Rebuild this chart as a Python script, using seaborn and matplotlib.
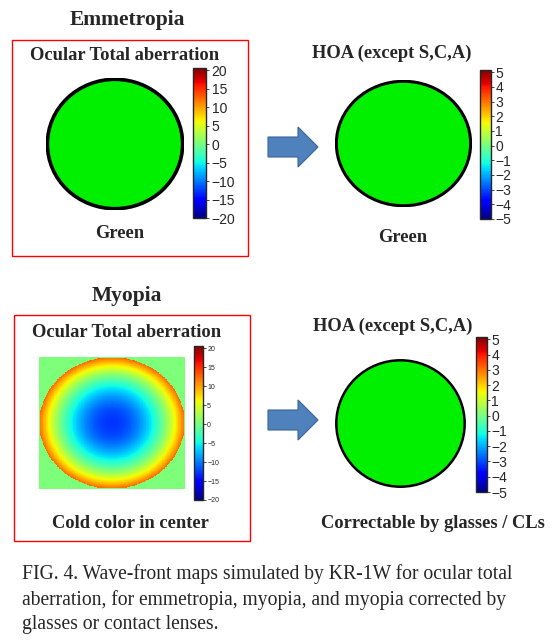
import numpy as np
import matplotlib
matplotlib.use("Agg")
import matplotlib.pyplot as plt
import seaborn as sns
from matplotlib import patches
from matplotlib.cm import ScalarMappable
from matplotlib.colors import Normalize

sns.set_style("white")
plt.rcParams['font.family'] = ['DejaVu Sans']

# ---- data ----
row_titles = ["Emmetropia", "Myopia"]
panel_titles = ["Ocular Total aberration", "HOA (except S,C,A)"]
panel_notes = [["Green", "Green"], ["Cold color in center", "Correctable by glasses / CLs"]]
total_ticks = [-20, -15, -10, -5, 0, 5, 10, 15, 20]
hoa_ticks = [-5, -4, -3, -2, -1, 0, 1, 2, 3, 4, 5]
total_range = [-20, 20]
hoa_range = [-5, 5]
myopia_center_value = -13.0   # wavefront at pupil centre (myopic defocus)
myopia_edge_value = 12.0      # wavefront at pupil edge
outside_value = 0.0
grid_n = 200
caption = ("FIG. 4. Wave-front maps simulated by KR-1W for ocular total\n"
           "aberration, for emmetropia, myopia, and myopia corrected by\n"
           "glasses or contact lenses.")

W, H = 559, 641
fig = plt.figure(figsize=(W / 100, H / 100), dpi=100)
fig.patch.set_facecolor("white")
serif = ["Liberation Serif", "DejaVu Serif"]


def ax_px(x0, y0, x1, y1):
    return fig.add_axes([x0 / W, 1 - y1 / H, (x1 - x0) / W, (y1 - y0) / H])


def txt(x, y, s, **kw):
    fig.text(x / W, 1 - y / H, s, ha="center", va="center", **kw)


def rect_px(x0, y0, x1, y1, **kw):
    fig.patches.append(patches.Rectangle((x0 / W, 1 - y1 / H), (x1 - x0) / W, (y1 - y0) / H,
                                         transform=fig.transFigure, fill=False, **kw))


def arrow_px(x0, yc):
    pts = [(x0, yc - 10), (x0 + 30, yc - 10), (x0 + 30, yc - 20), (x0 + 50, yc),
           (x0 + 30, yc + 20), (x0 + 30, yc + 10), (x0, yc + 10)]
    pts = [(x / W, 1 - y / H) for x, y in pts]
    fig.patches.append(patches.Polygon(pts, closed=True, transform=fig.transFigure,
                                       facecolor="#4F81BD", edgecolor="#3A6393", lw=0.8))


def green_circle(x0, y0, x1, y1, lw=2.2):
    ax = ax_px(x0, y0, x1, y1)
    ax.set_xlim(0, 1)
    ax.set_ylim(0, 1)
    ax.axis("off")
    ax.add_patch(patches.Ellipse((0.5, 0.5), 0.98, 0.98, facecolor="#00F000",
                                 edgecolor="black", lw=lw))


def cbar(x0, y0, x1, y1, rng, ticks, fs, pad=2):
    cax = ax_px(x0, y0, x1, y1)
    sm = ScalarMappable(norm=Normalize(rng[0], rng[1] * 1.03), cmap="jet")
    cb = fig.colorbar(sm, cax=cax, ticks=ticks)
    cb.outline.set_linewidth(1.0)
    cb.ax.tick_params(labelsize=fs, length=2, width=0.6, pad=pad)
    for t in cb.ax.get_yticklabels():
        t.set_fontfamily(["Liberation Sans", "DejaVu Sans"])
    return cb


TF = 13.3
# row titles and boxes
txt(127, 20, row_titles[0], fontsize=15.5, fontweight="bold", family=serif)
txt(127, 296, row_titles[1], fontsize=15.5, fontweight="bold", family=serif)
rect_px(12, 40, 248, 256, edgecolor="red", lw=1.0)
rect_px(14, 315, 250, 541, edgecolor="red", lw=1.0)

# panel titles
txt(125, 55, panel_titles[0], fontsize=TF, fontweight="bold", family=serif)
txt(392, 53, panel_titles[1], fontsize=TF, fontweight="bold", family=serif)
txt(127, 332, panel_titles[0], fontsize=TF, fontweight="bold", family=serif)
txt(393, 326, panel_titles[1], fontsize=TF, fontweight="bold", family=serif)

# notes
txt(120, 234, panel_notes[0][0], fontsize=TF, fontweight="bold", family=serif)
txt(403, 237, panel_notes[0][1], fontsize=TF, fontweight="bold", family=serif)
txt(130, 523, panel_notes[1][0], fontsize=TF, fontweight="bold", family=serif)
txt(433, 523, panel_notes[1][1], fontsize=TF, fontweight="bold", family=serif)

# emmetropia maps
green_circle(46, 78, 184, 210, lw=2.6)
cbar(193, 68, 206, 218, total_range, total_ticks, 10)
green_circle(335, 80, 472, 207, lw=2.2)
cbar(480, 70, 491, 219, hoa_range, hoa_ticks, 10, pad=1)

# myopia total aberration map
ax = ax_px(39, 357, 185, 489)
g = np.linspace(-1, 1, grid_n)
X, Y = np.meshgrid(g, g)
R2 = X ** 2 + Y ** 2
Z = myopia_center_value + (myopia_edge_value - myopia_center_value) * R2
Z = np.where(R2 <= 1.0, Z, outside_value)
sns.heatmap(Z, ax=ax, cmap="jet", vmin=total_range[0], vmax=total_range[1], cbar=False,
            xticklabels=False, yticklabels=False, rasterized=True)
ax.axis("off")
cbar(194, 346, 203, 500, total_range, total_ticks, 5, pad=1)

# corrected HOA map
green_circle(335, 359, 466, 488, lw=1.8)
cbar(476, 337, 487, 492, hoa_range, hoa_ticks, 10, pad=1)

# arrows
arrow_px(268, 147)
arrow_px(268, 420)

# caption
fig.text(22 / W, 1 - 564 / H, caption, ha="left", va="top", fontsize=14.1,
         family=serif, linespacing=1.4)

fig.savefig("out.png", dpi=100, facecolor="white")
